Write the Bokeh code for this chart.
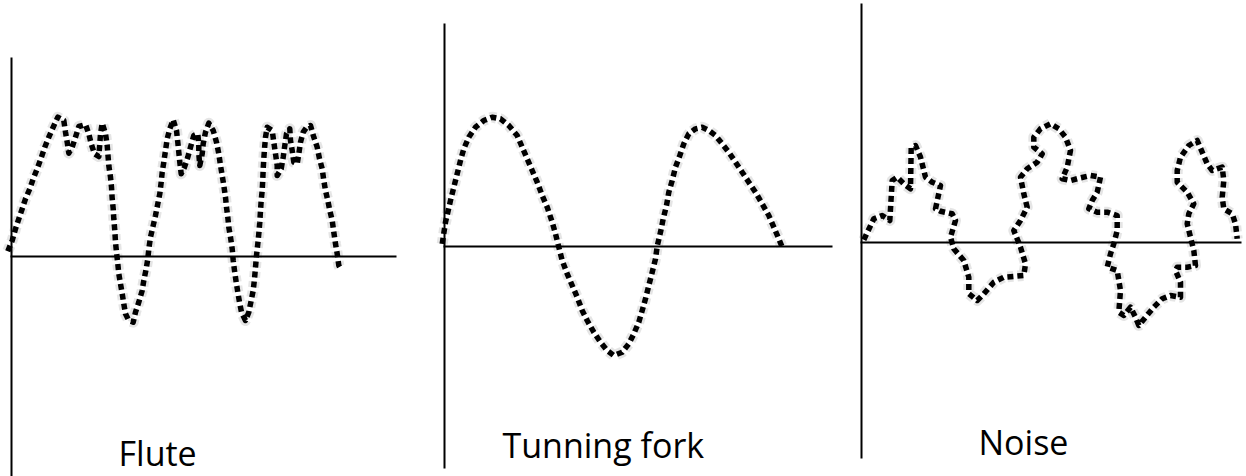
from bokeh.plotting import figure
from bokeh.layouts import row
from bokeh.models import Range1d
from bokeh.core.properties import value
from bokeh.embed import file_html
from bokeh.resources import INLINE

# ---- data (time, amplitude) ----
flute_t = [-3.7, 0.7, 4, 7.3, 10.7, 14, 18.3, 21.7, 25.7, 29.7, 33.3, 37.3, 41.7, 46.3, 52.3, 54, 55.7, 57.3,
           60.7, 64, 67.3, 74, 77.3, 79.7, 83, 87.3, 88.3, 89, 90.7, 94, 95.7, 97.3, 99, 100, 100.7, 101.7,
           102.3, 103.3, 104, 105, 106.3, 107.3, 109, 110.7, 112.3, 114, 117.3, 121.7, 124, 127.3, 130.7,
           132.3, 134.7, 136.3, 137.5, 139, 141.7, 144, 146.3, 148.3, 149.7, 150.7, 152.3, 154, 155.7, 158.3,
           161.7, 165, 166.3, 167.3, 168.3, 169.7, 173, 176.3, 179, 182.3, 186.3, 187.3, 187.3, 188.3, 190.7,
           191.7, 194, 197.3, 201.7, 205, 207.3, 209, 210.7, 212.3, 214, 215, 216.3, 217.3, 219, 220.7, 221.7,
           223, 224.7, 226.3, 228, 230, 234, 237.3, 239.7, 241.7, 243, 244, 245, 246.3, 247.3, 248.3, 249,
           249.7, 250.7, 251.3, 251.7, 252.3, 253, 254, 255.7, 260.7, 262.3, 264, 265.7, 265.7, 269.7, 271.7,
           273.3, 275, 278.3, 279, 280.7, 282.3, 285.7, 287.3, 289, 291.7, 295, 299, 302.3, 305.7, 308, 310.7,
           312.3, 314, 316.3, 318.3, 320.7, 322.3, 324, 325.7, 327.3, 328.3]
flute_amp = [5.3, 16, 27.7, 37.7, 47.7, 57.7, 67.7, 77.7, 87.7, 98.7, 109.3, 119.3, 129.3, 139.3, 136, 124.3,
             114.3, 103.3, 109.3, 119.3, 130, 132, 122.7, 112.7, 102.7, 100, 112.7, 122.7, 133.3, 122.7, 111,
             91, 79.3, 69.3, 57.7, 47.7, 37.7, 26, 14.3, 4.3, -7.3, -17.3, -27.3, -37.3, -47.3, -57.3, -64,
             -65.7, -55.7, -45.7, -34, -24, -12.3, -2.3, 9, 19.3, 31, 41, 52.7, 62.7, 74.3, 84.3, 94.3, 106,
             117.7, 127.7, 136.7, 126, 114.3, 104.3, 94.3, 82.7, 89.3, 99.3, 109.3, 121, 122.7, 112.7, 102.7,
             91, 102.7, 112.7, 124.3, 133.3, 126, 114.3, 102.7, 91, 81, 71, 59.3, 49.3, 39.3, 29.3, 19.3, 7.7,
             -4, -14, -25.7, -35.7, -45.7, -55.7, -64, -55.7, -44, -34, -22.3, -10.7, 1, 12.7, 22.7, 34.3, 46,
             56, 66, 77.7, 87.7, 97.7, 107.7, 119.3, 129.3, 126, 114.3, 102.7, 91, 81, 87.7, 99.3, 111, 122.7,
             127.7, 116, 106, 94.3, 92.7, 102.7, 114.3, 124.3, 129, 131, 119.3, 109.3, 97.7, 87.7, 76, 66, 56,
             46, 36, 24.3, 12.7, 2.7, -9, -10.7]

fork_t = [-2.3, 1, 6, 9.3, 12.7, 16, 19.3, 24.3, 31, 39.3, 47.7, 56, 64.3, 72.7, 77.7, 82.7, 87.7, 92.7, 97.7,
          102.7, 107.7, 111, 114.3, 117.7, 122.7, 127.7, 132.7, 137.7, 142.7, 149.3, 156, 162.7, 169.3, 177.7,
          184.3, 189.3, 194.3, 197.7, 201, 204.3, 207.7, 211, 212.7, 216, 218.7, 222, 224.3, 227.7, 231, 235.3,
          239.3, 244.3, 251, 257.7, 264.3, 271, 277.7, 284.3, 291, 297.7, 304.3, 311, 317.7, 324.3, 329.3,
          334.3, 337.7]
fork_amp = [2.7, 24.3, 46, 59.3, 72.7, 86, 97.7, 109.3, 119.3, 126, 129.3, 127.7, 121, 111, 99.3, 87.7, 76,
            64.3, 51, 39.3, 24.3, 12.7, -0.7, -14, -27.3, -39, -50.7, -64, -74, -85.7, -95.7, -104, -109,
            -105.7, -97.3, -87.3, -75.7, -64, -52.3, -39, -25.7, -12.3, 0.3, 14.3, 27.7, 41, 54.3, 66, 79.3,
            91, 102.7, 112.7, 117.7, 119.3, 116, 111, 102.7, 94.3, 84.3, 74.3, 64.3, 54.3, 42.7, 31, 19.3,
            7.7, -0.7]

noise_t = [2.3, 12.3, 20.7, 28.3, 30.7, 35.7, 42.3, 49, 49.7, 54, 59, 64, 70.7, 79, 74, 79, 90.7, 94, 89, 92.3,
           102.3, 107.3, 107.3, 115.7, 122.3, 132.3, 142.3, 162.3, 164, 159, 152.3, 159, 165.7, 162.3, 159,
           165.7, 175.7, 180.7, 172.3, 172.3, 179, 189, 197.3, 204, 209, 205.7, 200.7, 209, 219, 229, 239,
           235.7, 230.7, 227.3, 235.7, 245.7, 255.7, 255.7, 252.3, 249, 245.7, 255.7, 259, 257.3, 262.3, 269,
           274, 277.3, 284, 292.3, 300.7, 309, 319, 319, 314, 315.7, 325.7, 334, 332.3, 329, 325.7, 327.3,
           332.3, 325.7, 315.7, 315.7, 319, 327.3, 335.7, 340.7, 345.7, 350.7, 360.7, 362.3, 360.7, 362.3,
           370.7, 374, 375.7]
noise_amp = [2.7, 23.7, 27, 22, 62, 65.3, 58.7, 53.7, 95.3, 97, 85.3, 65.3, 60.3, 57, 33.7, 31.3, 28.7, 22,
             5.3, -6.3, -18, -34.7, -51.3, -58, -51.3, -39.7, -34.7, -33, -21.3, -4.7, 12, 22, 35.3, 48.7,
             65.3, 73.7, 80.3, 88.7, 95.3, 105.3, 113.7, 118.7, 113.7, 105.3, 92, 75.3, 63.7, 62, 64.7, 67,
             65.3, 50.3, 42, 33.7, 30.3, 30.3, 27, 12, -1.3, -11.3, -24.7, -28, -48, -69.7, -73, -64.7, -74.7,
             -83, -74.7, -64.7, -56.3, -53, -54.7, -39.7, -28, -24.7, -24.7, -23, -8, 5.3, 18.7, 28.7, 38.7,
             50.3, 60.3, 72, 85.3, 97, 102, 90.3, 78.7, 72, 75.3, 62, 45.3, 33.7, 28.7, 18.7, 3.7]

labels = ["Flute", "Tunning fork", "Noise"]

# ---- layout (pixel geometry of each panel) ----
PAGE_H = 476
panels = [
    dict(left=0, right=420, ox=11, oy=256, vtop=57, vbot=476, hstart=-1, hend=385, lab=(107, -196)),
    dict(left=420, right=840, ox=444, oy=246, vtop=23, vbot=468, hstart=-1, hend=388, lab=(58, -198)),
    dict(left=840, right=1246, ox=861, oy=242, vtop=3, vbot=458, hstart=-1, hend=380, lab=(117, -199)),
]
series = [(flute_t, flute_amp), (fork_t, fork_amp), (noise_t, noise_amp)]

figs = []
for cfg, (ts, amps), name in zip(panels, series, labels):
    w = cfg["right"] - cfg["left"]
    p = figure(width=w, height=PAGE_H, output_backend="svg", toolbar_location=None,
               x_range=Range1d(cfg["left"] - cfg["ox"], cfg["right"] - cfg["ox"]),
               y_range=Range1d(cfg["oy"] - PAGE_H, cfg["oy"]),
               x_axis_location=None, y_axis_location=None, min_border=0)
    p.grid.visible = False
    p.outline_line_color = None
    p.background_fill_color = "white"
    p.border_fill_color = "white"
    # axes lines
    p.segment(x0=[0], y0=[cfg["oy"] - cfg["vtop"]], x1=[0], y1=[cfg["oy"] - cfg["vbot"]],
              line_color="black", line_width=2)
    p.segment(x0=[cfg["hstart"]], y0=[0], x1=[cfg["hend"]], y1=[0],
              line_color="black", line_width=2)
    # soft shadow + dotted waveform
    p.line(ts, amps, line_color="black", line_alpha=0.10, line_width=11, line_dash="6 4",
           line_join="round")
    p.line(ts, amps, line_color="black", line_width=5.5, line_dash="6 4", line_cap="butt",
           line_join="round")
    lx, ly = cfg["lab"]
    p.text(x=[lx], y=[ly], text=[name], text_font=value("Open Sans"),
           text_font_size="34px", text_color="black", text_baseline="alphabetic", text_align="left")
    figs.append(p)

layout = row(*figs, spacing=0)
open("out.html", "w").write(file_html(layout, INLINE))
